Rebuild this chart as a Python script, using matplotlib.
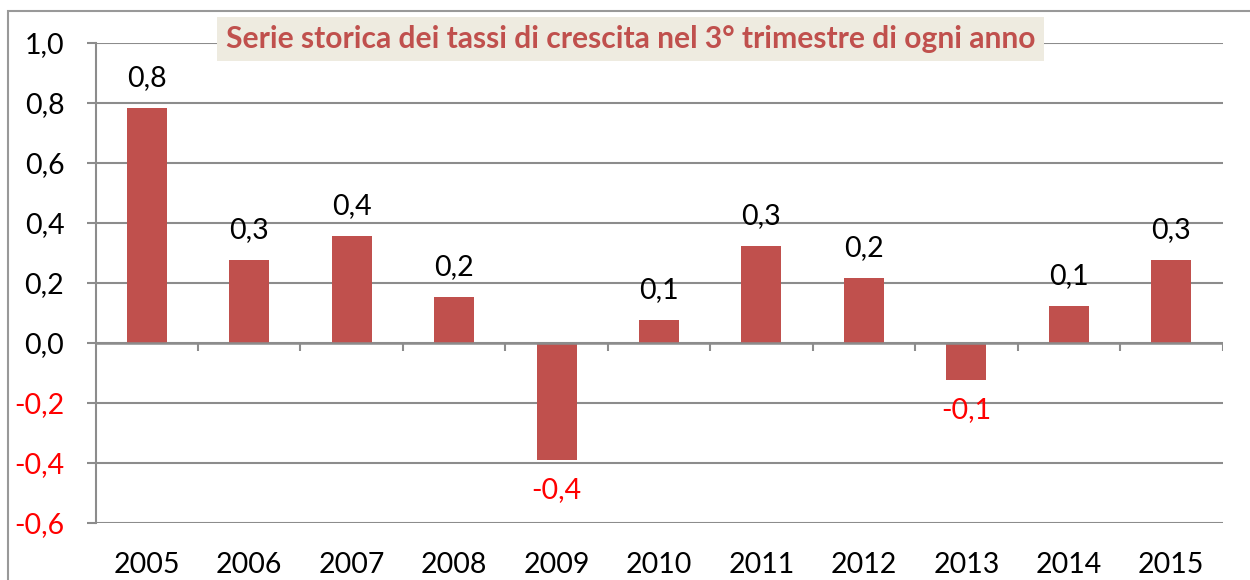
"""Serie storica dei tassi di crescita nel 3° trimestre (bar chart)."""

import matplotlib
matplotlib.use("Agg")
import matplotlib.pyplot as plt
from matplotlib.patches import Rectangle
import numpy as np

years = ["2005", "2006", "2007", "2008", "2009", "2010",
         "2011", "2012", "2013", "2014", "2015"]
growth = [0.783, 0.277, 0.357, 0.155, -0.39, 0.077,
          0.323, 0.217, -0.123, 0.123, 0.277]
yticks = [-0.6, -0.4, -0.2, 0.0, 0.2, 0.4, 0.6, 0.8, 1.0]
title = "Serie storica dei tassi di crescita nel 3° trimestre di ogni anno"

BAR = "#C0504D"
GRID = "#8C8C8C"
NEG = "#FF0000"
FONT = ["Lato", "DejaVu Sans"]
FS = 20.5


def fmt(v):
    return f"{v:.1f}".replace(".", ",")


fig = plt.figure(figsize=(12.5, 5.8), dpi=100)
ax = fig.add_axes([95.5 / 1250, 1 - 523 / 580, (1222.5 - 95.5) / 1250, (523 - 43) / 580])

x = np.arange(len(years))
ax.bar(x, growth, width=0.39, color=BAR, zorder=2)

ax.set_xlim(-0.5, len(years) - 0.5)
ax.set_ylim(yticks[0], yticks[-1])

# grid + axes look (Excel style)
ax.set_yticks(yticks)
ax.set_yticklabels([fmt(t) for t in yticks], family=FONT, fontsize=FS)
for lab, t in zip(ax.get_yticklabels(), yticks):
    if t < 0:
        lab.set_color(NEG)
ax.yaxis.grid(True, color=GRID, linewidth=1.5, zorder=0)
ax.tick_params(axis="y", length=6.5, width=1.5, color=GRID, pad=16)

ax.set_xticks(x)
ax.set_xticklabels(years, family=FONT, fontsize=FS)
ax.tick_params(axis="x", length=0, pad=21)

for side in ("top", "right", "bottom"):
    ax.spines[side].set_visible(False)
ax.spines["left"].set_color(GRID)
ax.spines["left"].set_linewidth(1.5)

# zero line with category separator ticks
ax.axhline(0, color=GRID, linewidth=1.8, zorder=3)
bounds = np.arange(len(years) + 1) - 0.5
ax.vlines(bounds[1:], -0.027, 0, color=GRID, linewidth=1.5, zorder=3)

# data labels
for xi, v in zip(x, growth):
    if v >= 0:
        ax.annotate(fmt(v), (xi, v), xytext=(0, 12), textcoords="offset points",
                    ha="center", va="bottom", fontsize=FS, family=FONT)
    else:
        ax.annotate(fmt(v), (xi, v), xytext=(0, -12), textcoords="offset points",
                    ha="center", va="top", fontsize=FS, family=FONT, color=NEG)

# title box
fig.text(630.5 / 1250, 1 - 39 / 580, title, ha="center", va="center",
         fontsize=21.6, fontweight="bold", color=BAR, family=FONT,
         bbox=dict(facecolor="#EEEBE0", edgecolor="none", pad=6))

# outer chart border (cropped at right/bottom)
fig.patches.append(Rectangle((8 / 1250, -0.05), 1.1, 1 - 11 / 580 + 0.05,
                             transform=fig.transFigure, fill=False,
                             edgecolor="#999999", linewidth=1.5))

fig.savefig("out.png", dpi=100)
